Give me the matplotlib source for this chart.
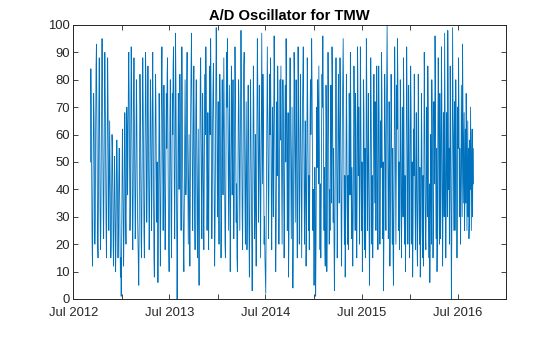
import matplotlib
matplotlib.use("Agg")
import matplotlib.pyplot as plt
import pandas as pd

title = "A/D Oscillator for TMW"
start_date = "2012-09-04"
end_date = "2016-08-29"

values = [
    50, 84, 70, 45, 22, 12, 30, 58, 75, 66, 40, 20, 30, 62, 85, 93, 70, 45, 20, 15, 38, 72, 88, 60,
    35, 18, 25, 52, 78, 95, 80, 55, 30, 22, 48, 70, 90, 75, 50, 28, 15, 35, 62, 88, 72, 45, 25, 40,
    65, 48, 28, 15, 20, 42, 60, 55, 35, 18, 12, 30, 52, 45, 25, 10, 22, 40, 58, 48, 30, 15, 25, 45,
    55, 38, 20, 8, 15, 1, 18, 40, 62, 50, 28, 12, 25, 48, 68, 55, 30, 20, 42, 70, 62, 38, 55, 78,
    90, 72, 48, 25, 35, 65, 92, 80, 55, 30, 18, 40, 72, 88, 65, 40, 22, 28, 55, 80, 70, 45, 30, 20,
    12, 5, 25, 55, 82, 70, 45, 20, 15, 38, 65, 88, 72, 48, 25, 15, 35, 62, 90, 78, 52, 28, 40, 68,
    85, 62, 35, 18, 30, 55, 80, 72, 48, 25, 40, 72, 90, 66, 40, 15, 8, 30, 62, 82, 70, 45, 28, 50,
    25, 6, 22, 50, 75, 60, 35, 12, 28, 55, 80, 92, 70, 42, 25, 45, 78, 60, 35, 18, 32, 58, 75, 55,
    82, 88, 62, 35, 18, 10, 32, 65, 80, 55, 28, 15, 42, 75, 60, 85, 92, 70, 40, 22, 48, 97, 80, 50,
    28, 0, 20, 48, 75, 62, 40, 55, 82, 70, 42, 25, 60, 92, 72, 45, 30, 18, 10, 35, 62, 80, 60, 38,
    45, 78, 90, 65, 35, 20, 40, 60, 30, 12, 35, 68, 85, 97, 75, 50, 25, 40, 72, 85, 58, 30, 18, 45,
    70, 80, 60, 30, 15, 38, 62, 20, 5, 25, 55, 80, 88, 65, 40, 22, 45, 75, 58, 32, 18, 42, 70, 82,
    60, 92, 78, 50, 25, 40, 68, 35, 18, 45, 78, 85, 60, 95, 75, 45, 22, 35, 65, 78, 86, 60, 35, 12,
    25, 55, 78, 99, 82, 55, 30, 45, 72, 40, 20, 48, 82, 70, 42, 15, 30, 62, 80, 55, 38, 65, 88, 68,
    45, 20, 15, 40, 72, 90, 70, 95, 72, 45, 25, 50, 78, 40, 10, 30, 60, 85, 65, 38, 55, 80, 50, 22,
    35, 68, 92, 75, 50, 28, 42, 15, 10, 32, 62, 80, 70, 45, 25, 48, 75, 98, 80, 55, 30, 18, 40, 70,
    85, 90, 62, 35, 20, 45, 72, 48, 18, 30, 62, 78, 55, 25, 8, 28, 60, 80, 58, 35, 20, 3, 25, 55,
    85, 72, 45, 22, 35, 60, 30, 12, 40, 72, 95, 80, 52, 28, 45, 78, 62, 35, 15, 38, 65, 97, 70, 42,
    82, 68, 42, 20, 30, 15, 8, 2, 25, 50, 75, 92, 70, 45, 22, 40, 68, 82, 60, 88, 65, 35, 18, 45,
    70, 55, 30, 62, 96, 80, 55, 30, 10, 22, 52, 72, 45, 85, 70, 40, 20, 32, 62, 80, 58, 85, 62, 35,
    20, 48, 80, 68, 40, 15, 32, 65, 78, 50, 95, 75, 48, 25, 42, 68, 8, 20, 45, 72, 88, 65, 38, 22,
    45, 70, 35, 4, 20, 48, 90, 78, 50, 28, 55, 80, 62, 30, 15, 40, 92, 75, 45, 20, 35, 65, 82, 58,
    30, 15, 40, 68, 82, 92, 70, 42, 20, 35, 65, 50, 12, 28, 58, 88, 75, 48, 25, 45, 18, 35, 65, 80,
    60, 75, 95, 78, 50, 25, 40, 20, 5, 22, 48, 30, 1, 20, 52, 70, 48, 80, 68, 42, 85, 62, 35, 18,
    42, 15, 35, 65, 82, 70, 96, 75, 45, 25, 48, 20, 12, 40, 78, 62, 10, 28, 58, 90, 72, 42, 20, 40,
    25, 45, 78, 62, 35, 92, 80, 52, 28, 55, 22, 3, 20, 48, 72, 88, 70, 42, 15, 30, 65, 82, 60, 35,
    55, 88, 75, 48, 25, 12, 38, 68, 82, 95, 72, 40, 20, 45, 8, 25, 50, 82, 65, 35, 20, 45, 18, 40,
    75, 60, 38, 90, 72, 40, 22, 48, 30, 12, 30, 58, 85, 70, 42, 25, 75, 62, 30, 15, 40, 92, 75, 45,
    70, 48, 20, 42, 92, 75, 45, 25, 50, 10, 22, 45, 80, 68, 35, 18, 55, 15, 35, 95, 80, 50, 25, 45,
    75, 55, 22, 5, 28, 55, 88, 72, 40, 20, 45, 15, 30, 65, 82, 60, 35, 72, 55, 25, 42, 85, 68, 35,
    18, 45, 85, 68, 40, 20, 35, 65, 48, 90, 75, 42, 22, 50, 3, 22, 52, 82, 70, 42, 25, 60, 78, 100,
    75, 48, 22, 35, 72, 55, 12, 30, 60, 82, 65, 38, 20, 55, 15, 5, 30, 58, 92, 75, 45, 20, 48, 78,
    62, 95, 78, 45, 25, 50, 18, 32, 80, 65, 40, 15, 35, 70, 55, 30, 88, 72, 28, 20, 45, 10, 30, 65,
    92, 75, 48, 20, 45, 78, 62, 15, 22, 55, 85, 70, 40, 20, 50, 8, 25, 62, 45, 82, 65, 35, 18, 38,
    68, 50, 20, 12, 38, 82, 65, 35, 20, 48, 8, 18, 42, 75, 58, 25, 15, 45, 12, 38, 90, 72, 45, 25,
    18, 35, 70, 55, 30, 85, 68, 28, 15, 42, 6, 22, 60, 48, 20, 80, 65, 40, 15, 30, 72, 62, 42, 96,
    78, 40, 22, 55, 10, 25, 58, 88, 70, 35, 20, 75, 55, 22, 40, 92, 75, 45, 12, 32, 68, 55, 30, 97,
    72, 48, 15, 35, 68, 55, 30, 98, 75, 40, 55, 20, 38, 85, 65, 35, 0, 22, 55, 99, 75, 45, 25, 60,
    72, 25, 45, 80, 65, 40, 15, 35, 70, 55, 88, 68, 30, 55, 40, 20, 45, 78, 55, 30, 93, 70, 35, 52,
    68, 25, 40, 62, 35, 75, 58, 25, 45, 65, 30, 55, 22, 28, 58, 40, 70, 48, 25, 50, 62, 30, 55, 42,
]

xtick_dates = ["2012-07-01", "2013-01-01", "2013-07-01", "2014-01-01", "2014-07-01",
               "2015-01-01", "2015-07-01", "2016-01-01", "2016-07-01", "2017-01-01"]
xtick_labels = ["Jul 2012", "", "Jul 2013", "", "Jul 2014", "", "Jul 2015", "", "Jul 2016", ""]
yticks = [0, 10, 20, 30, 40, 50, 60, 70, 80, 90, 100]

dates = pd.date_range(start_date, end_date, periods=len(values))

plt.rcParams['font.family'] = ['Liberation Sans', 'DejaVu Sans']
fig = plt.figure(figsize=(5.6, 3.37), dpi=100)
ax = fig.add_axes([0.131, 0.1128, 0.773, 0.8132])
ax.plot(dates, values, color="#0072BD", linewidth=0.6)

ax.set_xlim(pd.Timestamp(xtick_dates[0]), pd.Timestamp(xtick_dates[-1]))
ax.set_ylim(0, 100)
ax.set_xticks([pd.Timestamp(d) for d in xtick_dates])
ax.set_xticklabels(xtick_labels)
ax.set_yticks(yticks)
ax.set_yticklabels([str(v) for v in yticks])

dark = "#262626"
for s in ax.spines.values():
    s.set_color(dark)
    s.set_linewidth(0.7)
ax.tick_params(direction="in", length=3.5, width=0.6, colors=dark, labelsize=9.4,
               top=True, right=True, pad=2.5)
ax.tick_params(axis="x", pad=5.5)
for lab in ax.get_xticklabels() + ax.get_yticklabels():
    lab.set_color(dark)

ax.set_title(title, fontsize=10.6, fontweight="bold", color="#000000", pad=3.5)

fig.savefig("out.png", dpi=100)
